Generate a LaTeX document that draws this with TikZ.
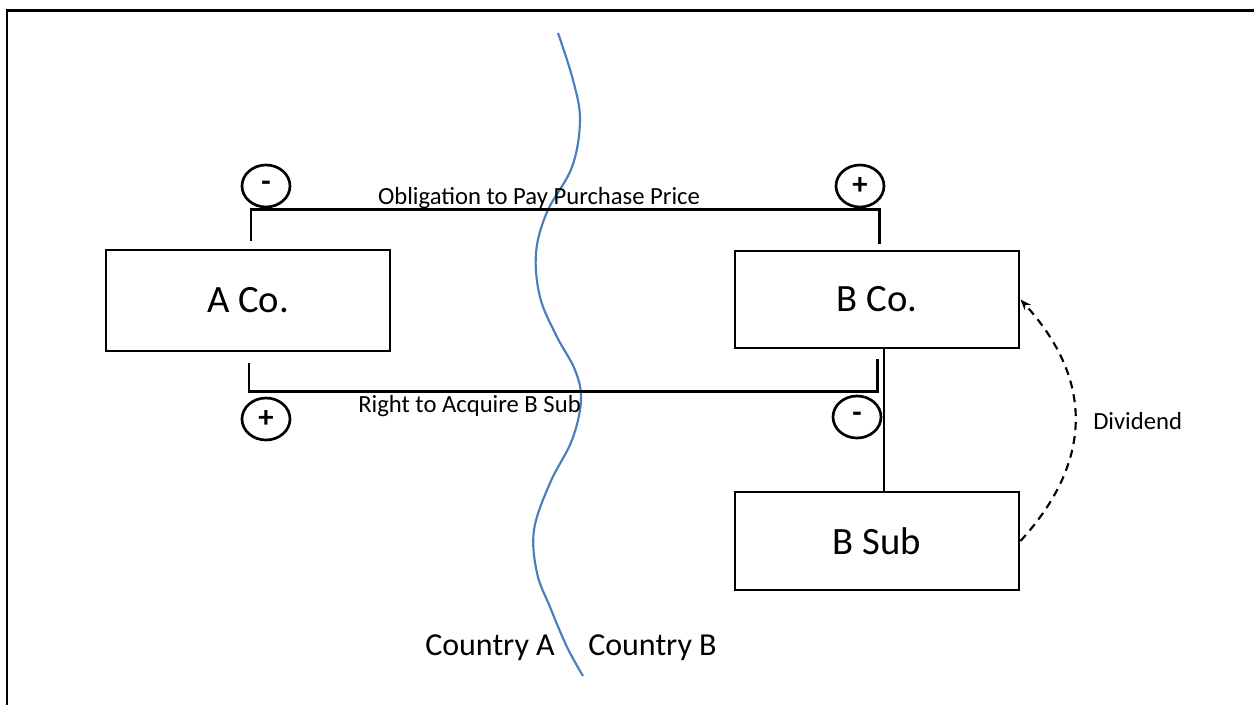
\documentclass[tikz,border=0pt]{standalone}
\usepackage{fontspec}
\setmainfont{Carlito}
\usetikzlibrary{arrows.meta,shapes.geometric}
\definecolor{borderblue}{RGB}{74,125,190}
\begin{document}
\begin{tikzpicture}[x=0.75pt,y=-0.75pt,
  box/.style={draw,line width=2.2pt,minimum width=213pt,inner sep=0pt,
    font=\fontsize{29}{34}\selectfont},
  sign/.style={draw,ellipse,line width=2pt,minimum width=36pt,
    minimum height=31.5pt,inner sep=0pt,font=\fontsize{23}{27}\selectfont\bfseries},
  conn/.style={line width=1.8pt},
  flow/.style={line width=1.6pt,dash pattern=on 6pt off 4.5pt,
    -{Stealth[length=8pt,width=6pt]}},
  lbl/.style={inner sep=0pt,font=\fontsize{18.5}{22}\selectfont},
  country/.style={inner sep=0pt,font=\fontsize{24}{28}\selectfont},
  wave/.style={draw=borderblue,line width=1.6pt}]
\useasboundingbox (0,0) rectangle (1254,704);

% page frame
\draw[line width=2pt] (7,730) -- (7,10.3) -- (1280,10.3);

% border between the two countries
\draw[wave] plot[smooth,tension=0.6] coordinates {
  (558,33) (573,80) (580,120) (572,167) (547,212) (536,253) (540,297)
  (556,335) (575,370) (581,400) (572,440) (550,483) (534,530) (537,573)
  (550,607) (567,647) (583,676)};

% companies
\node[box,minimum height=75.75pt] (A) at (248,300.5) {A Co.};
\node[box,minimum height=72.75pt] (B) at (877,299.5) {B Co.};
\node[box,minimum height=73.5pt]  (S) at (877,541)   {B Sub};

% obligation to pay
\coordinate (ta) at ([shift={(3,-7.5)}]A.north);
\coordinate (tb) at ([shift={(2.5,-6)}]B.north);
\draw[conn] (ta) -- ++(0,-31.5) -| (tb);

% right to acquire
\coordinate (ba) at ([shift={(1,11)}]A.south);
\coordinate (bb) at ([shift={(0.5,10)}]B.south);
\draw[conn] (ba) -- ++(0,28) -| (bb);

% ownership of the subsidiary
\draw[conn] ([shift={(7,0)}]B.south) -- ([shift={(7,0)}]S.north);

% dividend
\draw[flow] (S.east) .. controls +(73,-80) and +(73,80) .. (B.east);

% signs
\node[sign] (s1) at (266,186) {-};
\node[sign] (s2) at (860,186) {+};
\node[sign] (s3) at (266,419) {+};
\node[sign] (s4) at (857,417) {-};

% labels
\node[lbl,anchor=base] (ob) at (539,204) {Obligation to Pay Purchase Price};
\node[lbl,anchor=base west] (ra) at (358,412) {Right to Acquire B Sub};
\node[lbl,anchor=base west] (dv) at (1093,429) {Dividend};
\node[country,anchor=base west] (ca) at (425,655) {Country A};
\node[country,anchor=base west] (cb) at (588,655) {Country B};
\end{tikzpicture}
\end{document}
